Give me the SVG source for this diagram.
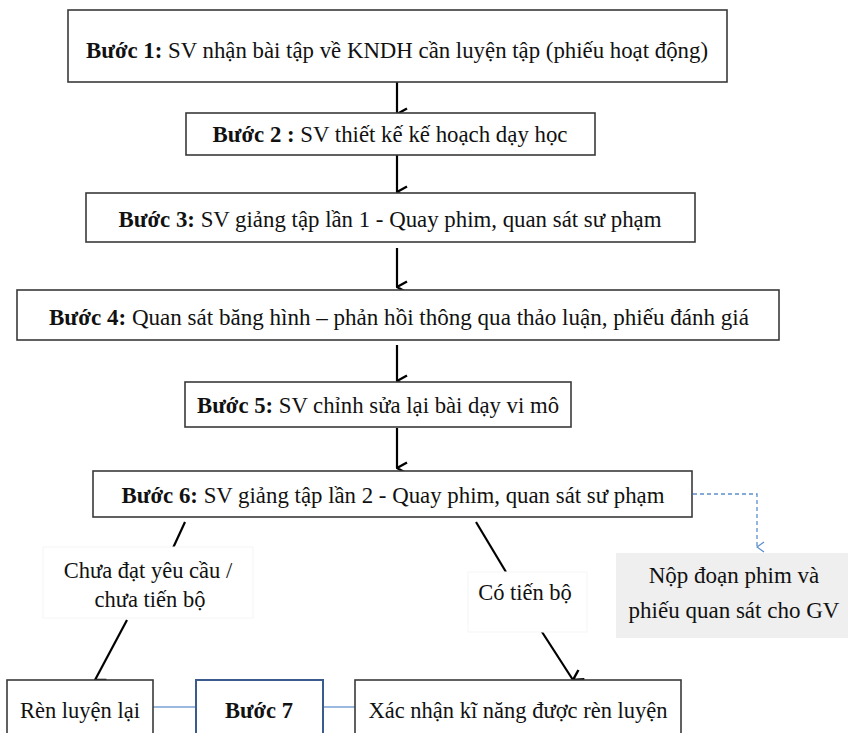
<svg xmlns="http://www.w3.org/2000/svg" width="848" height="733" viewBox="0 0 848 733">
<defs>
<style>
.box{fill:#fff;stroke:#3a3a3a;stroke-width:1.6}
.lbl{fill:#fff;stroke:#f5f5f5;stroke-width:1}
.t{font-family:"Liberation Serif","Times New Roman",serif;font-size:22.5px;fill:#111;text-anchor:middle}
.b{font-weight:bold}
.arr{stroke:#000;stroke-width:2.2;fill:none}
.ln{stroke:#000;stroke-width:2.2;fill:none}
.blue{stroke:#7aa0d4;stroke-width:1.5;fill:none}
.dash{stroke:#5b8fd0;stroke-width:1.3;fill:none;stroke-dasharray:4,3}
</style>
<marker id="ah" viewBox="0 0 14 15" refX="7" refY="14" markerWidth="14" markerHeight="15" markerUnits="userSpaceOnUse" orient="auto">
<path d="M1.5,4 L7,14 L12.5,4" fill="none" stroke="#000" stroke-width="2.4"/>
</marker>
<marker id="ahb" viewBox="0 0 12 10" refX="6" refY="9" markerWidth="12" markerHeight="10" markerUnits="userSpaceOnUse" orient="auto">
<path d="M1,2 L6,9 L11,2" fill="none" stroke="#5b8fd0" stroke-width="1.3"/>
</marker>
</defs>
<rect width="848" height="733" fill="#fff"/>
<g id="connectors">
<line class="arr" x1="397" y1="82" x2="397" y2="114" marker-end="url(#ah)"/>
<line class="arr" x1="397" y1="155" x2="397" y2="192" marker-end="url(#ah)"/>
<line class="arr" x1="397" y1="248" x2="397" y2="287" marker-end="url(#ah)"/>
<line class="arr" x1="397" y1="345" x2="397" y2="381" marker-end="url(#ah)"/>
<line class="arr" x1="397" y1="428" x2="397" y2="468" marker-end="url(#ah)"/>
<polyline class="dash" points="693,494 757,494 757,547" marker-end="url(#ahb)"/>
<line class="ln" x1="185" y1="522" x2="173" y2="548"/>
<line class="arr" x1="127" y1="620" x2="95" y2="680" marker-end="url(#ah)"/>
<line class="ln" x1="476" y1="522" x2="506" y2="572"/>
<line class="arr" x1="533" y1="618" x2="573" y2="680" marker-end="url(#ah)"/>
<line class="blue" x1="153" y1="707" x2="196" y2="707"/>
<line class="blue" x1="323" y1="707" x2="355" y2="707"/>
</g>
<g id="step1">
<rect class="box" x="68" y="10" width="659" height="72"/>
<text class="t" x="397" y="58" textLength="622" lengthAdjust="spacingAndGlyphs"><tspan class="b">Bước 1:</tspan> SV nhận bài tập về KNDH cần luyện tập (phiếu hoạt động)</text>
</g>
<g id="step2">
<rect class="box" x="186" y="113" width="409" height="42"/>
<text class="t" x="390" y="142" textLength="355" lengthAdjust="spacingAndGlyphs"><tspan class="b">Bước 2 :</tspan> SV thiết kế kế hoạch dạy học</text>
</g>
<g id="step3">
<rect class="box" x="86" y="193" width="609" height="49"/>
<text class="t" x="390" y="227" textLength="543" lengthAdjust="spacingAndGlyphs"><tspan class="b">Bước 3:</tspan> SV giảng tập lần 1 - Quay phim, quan sát sư phạm</text>
</g>
<g id="step4">
<rect class="box" x="17" y="290" width="762" height="50"/>
<text class="t" x="399" y="325" textLength="700" lengthAdjust="spacingAndGlyphs"><tspan class="b">Bước 4:</tspan> Quan sát băng hình – phản hồi  thông qua thảo luận, phiếu đánh giá</text>
</g>
<g id="step5">
<rect class="box" x="185" y="382" width="386" height="45"/>
<text class="t" x="378" y="413" textLength="362" lengthAdjust="spacingAndGlyphs"><tspan class="b">Bước 5:</tspan> SV chỉnh sửa lại bài dạy vi mô</text>
</g>
<g id="step6">
<rect class="box" x="93" y="471" width="599" height="46"/>
<text class="t" x="393" y="503" textLength="543" lengthAdjust="spacingAndGlyphs"><tspan class="b">Bước 6:</tspan> SV giảng tập lần 2 - Quay phim, quan sát sư phạm</text>
</g>
<g id="submit">
<rect x="616" y="553" width="232" height="85" fill="#efefef"/>
<text class="t" x="734" y="583" style="font-size:23px">Nộp đoạn phim và</text>
<text class="t" x="734" y="618" style="font-size:23px">phiếu quan sát cho GV</text>
</g>
<g id="label-fail">
<rect class="lbl" x="43" y="547" width="210" height="71"/>
<text class="t" x="148" y="578">Chưa đạt yêu cầu /</text>
<text class="t" x="150" y="607">chưa tiến bộ</text>
</g>
<g id="label-pass">
<rect class="lbl" x="468" y="572" width="119" height="60"/>
<text class="t" x="525" y="600">Có tiến bộ</text>
</g>
<g id="retrain">
<rect class="box" x="7" y="680" width="146" height="70"/>
<text class="t" x="80" y="718">Rèn luyện lại</text>
</g>
<g id="step7">
<rect x="196" y="680" width="127" height="70" fill="#fff" stroke="#3b5b8f" stroke-width="2"/>
<text class="t b" x="259" y="718">Bước 7</text>
</g>
<g id="confirm">
<rect class="box" x="355" y="680" width="326" height="70"/>
<text class="t" x="518" y="718">Xác nhận kĩ năng được rèn luyện</text>
</g>
</svg>
